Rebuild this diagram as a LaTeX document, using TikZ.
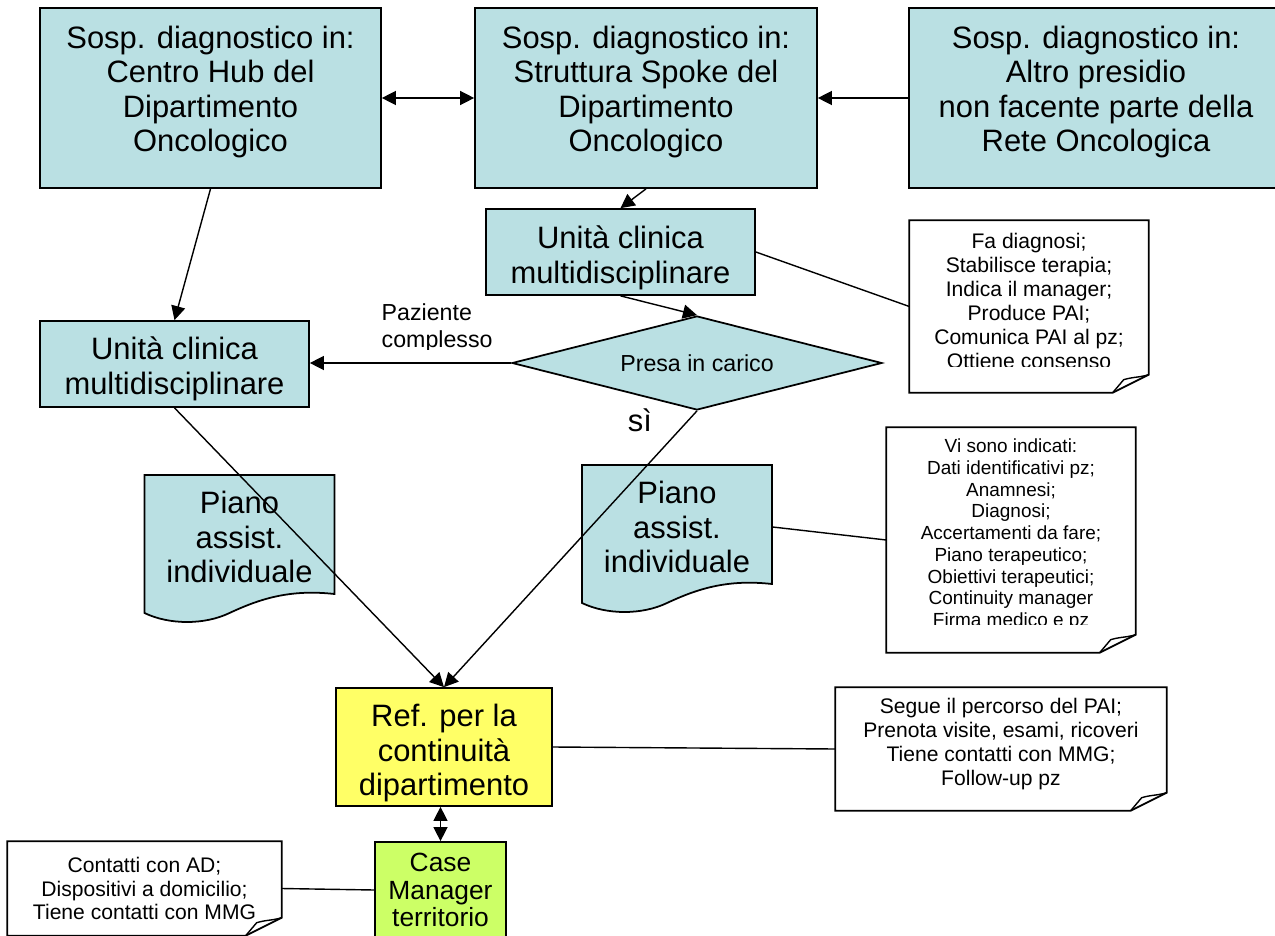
\documentclass[tikz,border=0pt]{standalone}
\usepackage{fontspec}
\setmainfont{Liberation Sans}
\usetikzlibrary{arrows.meta,shapes.geometric}

\definecolor{boxblue}{RGB}{186,224,227}
\definecolor{refyellow}{RGB}{255,255,102}
\definecolor{casegreen}{RGB}{204,255,102}

\newcommand\boxfont{\fontsize{17.6}{19.6}\selectfont}
\newcommand\notefont{\fontsize{12}{13.6}\selectfont}
\newcommand\smallnotefont{\fontsize{10.8}{12.4}\selectfont}
\newcommand\casefont{\fontsize{15}{15.8}\selectfont}
\newcommand\labelfont{\fontsize{13.2}{15.4}\selectfont}

% outline of a note with the folded corner
\newcommand\foldnote[1]{%
  \draw[line width=1pt] (#1.north west) -- (#1.north east) -- ([yshift=0.36cm]#1.south east)
    -- ([xshift=-0.72cm]#1.south east) -- (#1.south west) -- cycle;
  \draw[line width=0.8pt] ([xshift=-0.72cm]#1.south east) -- ++(0.22cm,0.26cm)
    .. controls +(0.2cm,0.06cm) and +(-0.2cm,-0.06cm) .. ([yshift=0.36cm]#1.south east);
}
% document shape of the PAI
\newcommand\pianoshape[1]{%
  \begin{scope}[shift={(#1)}]
    \draw[line width=1pt, fill=boxblue] (-95,-62) -- (95,-62) -- (95,57)
      .. controls (50,52) and (20,62) .. (-10,76)
      .. controls (-35,88) and (-70,88) .. (-95,76) -- cycle;
  \end{scope}
}

\begin{document}
\begin{tikzpicture}[
        x=0.02cm, y=-0.02cm,
        line width=0.8pt,
        box/.style = {draw, line width=1pt, fill=boxblue, inner sep=0pt},
        boxtext/.style = {align=center, inner sep=0pt, font=\boxfont},
        note/.style = {inner sep=0pt, align=center, font=\notefont},
        arrow/.style={-{Triangle[length=8pt, width=8pt]}},
        twoway/.style={{Triangle[length=8pt, width=8pt]}-{Triangle[length=8pt, width=8pt]}}
        ]
        \useasboundingbox (0,0) rectangle (1275,936);

        \node[box, minimum width=6.82cm, minimum height=3.6cm] (H) at (210.5,98) {};
        \node[boxtext] (Ht) at (210.5,92) {Sosp. diagnostico in:\\Centro Hub del\\Dipartimento\\Oncologico};
        \node[box, minimum width=6.84cm, minimum height=3.6cm] (SP) at (646,98) {};
        \node[boxtext] (SPt) at (646,92) {Sosp. diagnostico in:\\Struttura Spoke del\\Dipartimento\\Oncologico};
        \node[box, minimum width=7.48cm, minimum height=3.6cm] (A) at (1096,98) {};
        \node[boxtext] (At) at (1096,92) {Sosp. diagnostico in:\\Altro presidio\\non facente parte della\\Rete Oncologica};

        \node[box, minimum width=5.38cm, minimum height=1.72cm] (UT) at (620.5,252) {};
        \node[boxtext] (UTt) at (620.5,258) {Unità clinica\\multidisciplinare};
        \node[box, minimum width=5.38cm, minimum height=1.72cm] (UL) at (174.5,364) {};
        \node[boxtext] (ULt) at (174.5,369) {Unità clinica\\multidisciplinare};
        \node[diamond, draw, line width=1pt, fill=boxblue, aspect=3.9, inner sep=0pt,
              minimum width=7.4cm, minimum height=1.88cm, font=\labelfont] (D) at (697,363) {Presa in carico};

        \coordinate (pl) at (239.5,537);
        \coordinate (pr) at (677,527);
        \pianoshape{pl}
        \pianoshape{pr}
        \node[boxtext, minimum width=3.74cm] (PL) at (pl) {Piano\\assist.\\individuale};
        \node[boxtext, minimum width=3.8cm] (PR) at (pr) {Piano\\assist.\\individuale};

        \node[box, fill=refyellow, minimum width=4.32cm, minimum height=2.36cm] (R) at (444,747) {};
        \node[boxtext] (Rt) at (444,753) {Ref. per la\\continuità\\dipartimento};
        \node[box, fill=casegreen, align=center, font=\casefont, minimum width=2.62cm, minimum height=1.92cm] (CM) at (440.5,890) {Case\\Manager\\territorio};

        % notes
        \node[note, minimum width=4.76cm, minimum height=3.42cm] (N1) at (1029,306.5) {};
        \foldnote{N1}
        \begin{scope}
          \clip (910,221) rectangle (1148,366);
          \node[note, anchor=north] (N1t) at (1029,233) {Fa diagnosi;\\Stabilisce terapia;\\Indica il manager;\\Produce PAI;\\Comunica PAI al pz;\\Ottiene consenso};
        \end{scope}
        \node[note, minimum width=4.96cm, minimum height=4.48cm] (N2) at (1011,540) {};
        \foldnote{N2}
        \begin{scope}
          \clip (887,428) rectangle (1135,624);
          \node[note, anchor=north, font=\smallnotefont] (N2t) at (1011,438) {Vi sono indicati:\\Dati identificativi pz;\\Anamnesi;\\Diagnosi;\\Accertamenti da fare;\\Piano terapeutico;\\Obiettivi terapeutici;\\Continuity manager\\Firma medico e pz};
        \end{scope}
        \node[note, minimum width=6.6cm, minimum height=2.44cm] (N3) at (1001,749) {};
        \node[note] (N3t) at (1001,744) {Segue il percorso del PAI;\\Prenota visite, esami, ricoveri\\Tiene contatti con MMG;\\Follow-up pz};
        \foldnote{N3}
        \node[note, minimum width=5.46cm, minimum height=1.86cm] (N4) at (144.5,888.5) {Contatti con AD;\\Dispositivi a domicilio;\\Tiene contatti con MMG};
        \foldnote{N4}

        % labels
        \begin{scope}
          \clip (370,290) rectangle (520,349);
          \node[align=left, anchor=north west, inner sep=0pt, font=\labelfont] (PC) at (381,303) {Paziente\\complesso};
        \end{scope}
        \node[font=\boxfont] (SI) at (640,420) {sì};

        % connectors
        \draw[twoway] (H.east) -- (SP.west);
        \draw[arrow] (A.west) -- (SP.east);
        \draw[arrow] (SP.south) -- (UT.north);
        \draw[arrow] (H.south) -- (UL.north);
        \draw[arrow] (UT.south) -- (D.north);
        \draw (UT.east) -- (N1.west);
        \draw[arrow] (D.west) -- (D.west -| UL.east);
        \draw[arrow] (D.south) -- (R.north);
        \draw[arrow] (UL.south) -- (R.north);
        \draw (PR.east) -- (N2.west);
        \draw (R.east) -- (N3.west);
        \draw[twoway] (CM.north |- R.south) -- (CM.north);
        \draw (CM.west) -- (N4.east);
\end{tikzpicture}
\end{document}
